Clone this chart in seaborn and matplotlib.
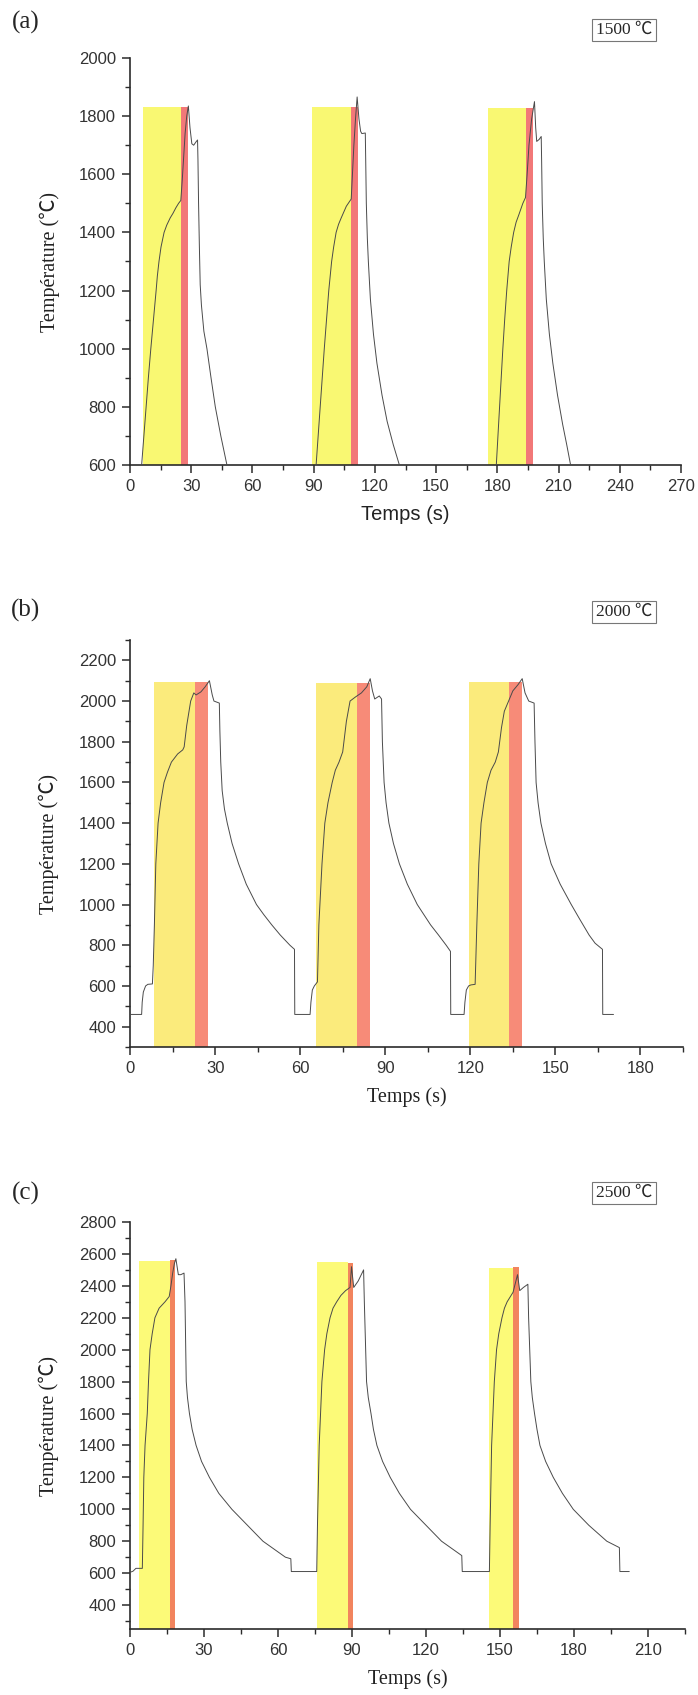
import matplotlib
matplotlib.use("Agg")
import matplotlib.pyplot as plt
import numpy as np
import pandas as pd
import seaborn as sns
from matplotlib.ticker import MultipleLocator

# ---- (a) 1500 C : three cycles, curve leaves the frame below 600 between cycles
a_time = [
    [5.7, 6.8, 7.9, 9.0, 10.2, 11.5, 12.8, 13.4, 14.2, 15.2, 16.7, 18.0, 19.7, 21.0, 22.5,
     23.8, 24.9, 25.6, 26.3, 27.0, 27.8, 28.6, 29.4, 30.3, 31.2, 32.4, 33.1, 33.3, 33.6,
     34.0, 34.4, 35.0, 36.2, 37.7, 39.7, 41.8, 44.5, 47.5],
    [91.2, 92.2, 93.2, 94.2, 95.2, 96.3, 97.4, 98.1, 98.8, 99.8, 101.0, 102.2, 103.5, 106.0,
     108.4, 109.0, 109.7, 110.5, 111.3, 112.2, 113.0, 113.6, 115.3, 115.5, 115.8, 116.3,
     116.8, 117.8, 119.3, 121.0, 123.5, 126.0, 129.0, 132.0],
    [179.5, 180.3, 181.1, 181.9, 182.7, 183.6, 184.6, 185.2, 185.8, 186.8, 188.0, 189.2,
     190.5, 192.5, 193.8, 194.6, 195.5, 196.8, 198.2, 198.8, 199.3, 200.5, 201.5, 201.7,
     202.0, 202.5, 203.0, 204.0, 205.5, 207.2, 209.5, 212.0, 214.0, 215.9],
]
a_temp = [
    [600, 700, 800, 900, 1000, 1100, 1200, 1250, 1300, 1350, 1400, 1425, 1450, 1465, 1485,
     1500, 1510, 1580, 1660, 1740, 1800, 1835, 1760, 1705, 1700, 1712, 1718, 1650, 1500,
     1350, 1220, 1150, 1060, 1000, 900, 800, 700, 600],
    [600, 700, 800, 900, 1000, 1100, 1200, 1250, 1300, 1350, 1400, 1428, 1450, 1490, 1515,
     1600, 1700, 1790, 1866, 1790, 1748, 1740, 1742, 1650, 1500, 1380, 1300, 1170, 1050,
     950, 840, 750, 670, 600],
    [600, 700, 800, 900, 1000, 1100, 1200, 1250, 1300, 1350, 1400, 1435, 1460, 1500, 1520,
     1600, 1700, 1790, 1850, 1760, 1713, 1720, 1730, 1650, 1500, 1380, 1300, 1170, 1050,
     950, 840, 740, 670, 600],
]
a_yellow = [(6.2, 24.9), (89.2, 108.2), (175.5, 194.0)]
a_red = [(24.9, 28.3), (108.2, 111.5), (194.0, 197.6)]
a_yellow_top = [1830, 1830, 1828]
a_red_top = [1830, 1830, 1828]

# ---- (b) 2000 C
b_time = [0, 4.1, 4.3, 4.7, 5.5, 6.3, 7.9, 8.2, 8.6, 9.1, 9.9, 10.8, 12.0, 13.2, 14.6, 16.8,
          18.6, 19.1, 20.0, 21.4, 22.5, 23.3, 25.0, 26.5, 28.0, 29.0, 29.6, 31.5, 31.7, 32.0,
          32.5, 33.3, 34.3, 36.0, 38.3, 41.0, 44.6, 47.2, 50.0, 53.0, 56.4, 58.0, 58.1, 63.5,
          63.8, 64.3, 65.0, 66.1, 66.6, 67.7, 68.7, 69.8, 71.3, 72.4, 73.7, 75.0, 76.3, 77.6,
          79.5, 81.6, 83.5, 84.7, 85.5, 86.3, 87.9, 88.7, 89.0, 89.6, 90.3, 91.3, 92.9, 95.0,
          97.8, 101.3, 106.0, 108.8, 111.5, 113.0, 113.1, 117.8,
          118.1, 118.6, 119.4, 120.2, 121.7, 122.3, 123.0, 123.8, 124.8, 126.0, 127.3, 128.8,
          129.9, 131.0, 132.0, 133.5, 135.0, 136.8, 138.3, 139.3, 140.6, 142.5, 142.8, 143.2,
          143.9, 144.9, 146.5, 148.5, 151.7, 155.6, 158.5, 161.9, 164.0, 166.6, 166.7, 170.5]
b_temp = [460, 460, 520, 570, 600, 608, 610, 700, 900, 1200, 1400, 1500, 1600, 1650, 1700,
          1740, 1760, 1775, 1880, 2000, 2040, 2030, 2045, 2070, 2100, 2030, 2000, 1990, 1850,
          1700, 1560, 1470, 1400, 1300, 1200, 1100, 1000, 950, 900, 850, 800, 780, 460, 460,
          520, 580, 600, 620, 900, 1200, 1400, 1500, 1600, 1660, 1700, 1750, 1900, 2000,
          2020, 2040, 2070, 2110, 2050, 2010, 2025, 2010, 1800, 1600, 1500, 1400, 1300, 1200,
          1100, 1000, 900, 850, 800, 770, 460, 460,
          520, 580, 600, 605, 608, 900, 1200, 1400, 1500, 1600, 1660, 1700, 1750, 1870, 1950,
          2000, 2050, 2080, 2110, 2040, 2000, 1990, 1800, 1600, 1500, 1400, 1300, 1200, 1100,
          1000, 930, 850, 810, 780, 460, 460]
b_yellow = [(8.4, 22.8), (65.5, 80.0), (119.4, 133.5)]
b_red = [(22.8, 27.4), (80.0, 84.7), (133.5, 138.3)]
b_yellow_top = [2095, 2090, 2095]
b_red_top = [2095, 2090, 2095]

# ---- (c) 2500 C
c_time = [0, 1.2, 2.4, 5.0, 5.3, 5.6, 6.1, 7.0, 7.5, 8.1, 9.0, 10.1, 11.8, 14.2, 15.9, 16.6,
          17.3, 18.0, 18.6, 19.6, 20.6, 21.9, 22.3, 22.8, 23.3, 24.1, 25.2, 26.8, 29.0, 32.2,
          36.0, 41.3, 47.6, 53.9, 63.0, 65.2, 65.4, 75.7,
          76.0, 76.7, 77.8, 78.9, 79.8, 81.1, 82.3, 83.8, 85.5, 87.4, 89.2, 89.8, 90.7, 92.5,
          94.7, 95.0, 95.9, 96.6, 97.7, 98.7, 100.1, 102.4, 105.5, 109.2, 113.7, 120.0, 126.3,
          134.5, 134.7, 145.7,
          146.0, 146.6, 147.7, 148.6, 149.5, 150.8, 151.8, 152.9, 155.3, 157.1, 158.0, 159.5,
          161.3, 161.6, 162.5, 163.1, 164.0, 165.0, 166.2, 168.5, 171.6, 175.3, 179.7, 186.0,
          193.3, 198.4, 198.6, 202.4]
c_temp = [605, 612, 630, 630, 900, 1200, 1400, 1600, 1800, 2000, 2100, 2200, 2260, 2300, 2333,
          2400, 2480, 2540, 2570, 2470, 2470, 2480, 2300, 1800, 1700, 1600, 1500, 1400, 1300,
          1200, 1100, 1000, 900, 800, 700, 690, 610, 610,
          900, 1400, 1800, 2000, 2100, 2200, 2260, 2300, 2340, 2370, 2390, 2520, 2390, 2430,
          2500, 2300, 1800, 1700, 1600, 1500, 1400, 1300, 1200, 1100, 1000, 900, 800, 710,
          610, 610,
          900, 1400, 1800, 2000, 2100, 2200, 2260, 2300, 2360, 2470, 2370, 2390, 2410, 2200,
          1800, 1700, 1600, 1500, 1400, 1300, 1200, 1100, 1000, 900, 800, 760, 610, 610]
c_yellow = [(3.6, 16.3), (75.7, 88.3), (145.7, 155.3)]
c_red = [(16.3, 18.2), (88.3, 90.5), (155.3, 157.6)]
c_yellow_top = [2555, 2550, 2510]
c_red_top = [2560, 2540, 2520]

W, H = 698, 1695
sns.set_theme(style="ticks")
plt.rcParams["font.family"] = ["Liberation Sans", "DejaVu Sans"]
SERIF = ["Liberation Serif", "Noto Sans CJK SC", "DejaVu Serif"]

fig = plt.figure(figsize=(W / 100, H / 100), dpi=100)


def box(left, top, right, bottom):
    return [left / W, 1 - bottom / H, (right - left) / W, (bottom - top) / H]


def frame(times, temps):
    rows = []
    for k, (t, v) in enumerate(zip(times, temps)):
        rows.append(pd.DataFrame({"t": t, "T": v, "cycle": k}))
    return pd.concat(rows, ignore_index=True)


def panel(rect, df, yellow, red, ytop, rtop, ycol, rcol, xlim, ylim, xmax_tick,
          ymin_tick, ymax_tick, xlabel_family):
    ax = fig.add_axes(rect)
    for (x0, x1), top in zip(yellow, ytop):
        ax.fill_between([x0, x1], ylim[0], top, color=ycol, lw=0, zorder=1)
    for (x0, x1), top in zip(red, rtop):
        ax.fill_between([x0, x1], ylim[0], top, color=rcol, lw=0, zorder=1)
    sns.lineplot(data=df, x="t", y="T", units="cycle", estimator=None, sort=False,
                 color="#4a4a4a", lw=0.7, ax=ax, zorder=3)
    ax.set_xlim(*xlim)
    ax.set_ylim(*ylim)
    ax.set_xticks(np.arange(0, xmax_tick + 1, 30))
    ax.set_yticks(np.arange(ymin_tick, ymax_tick + 1, 200))
    ax.xaxis.set_minor_locator(MultipleLocator(15))
    ax.yaxis.set_minor_locator(MultipleLocator(100))
    for s in ["top", "right"]:
        ax.spines[s].set_visible(False)
    for s in ["left", "bottom"]:
        ax.spines[s].set_color("#2b2b2b")
        ax.spines[s].set_linewidth(1.2)
    ax.tick_params(which="major", length=6, width=1.1, color="#2b2b2b",
                   labelsize=12, labelcolor="#333333", pad=4)
    ax.tick_params(which="minor", length=3.5, width=1.0, color="#2b2b2b")
    ax.set_ylabel("Température (℃)", family=SERIF, fontsize=14.5, labelpad=14,
                  color="#222222")
    ax.set_xlabel("Temps (s)", family=xlabel_family, fontsize=14.5, labelpad=8,
                  color="#222222")
    ax.grid(False)
    return ax


# (a)
panel(box(130, 58, 681, 465), frame(a_time, a_temp), a_yellow, a_red, a_yellow_top,
      a_red_top, "#F9F872", "#F27878", (0, 270), (600, 2000), 270, 600, 2000,
      ["Liberation Sans", "DejaVu Sans"])
# (b)
panel(box(130, 640, 683, 1047), frame([b_time], [b_temp]), b_yellow, b_red, b_yellow_top,
      b_red_top, "#FBEB7C", "#F78B78", (0, 195), (300, 2300), 180, 400, 2200, SERIF)
# (c)
panel(box(130, 1222, 685, 1629), frame([c_time], [c_temp]), c_yellow, c_red, c_yellow_top,
      c_red_top, "#FCFA78", "#F2845E", (0, 225), (250, 2800), 210, 400, 2800, SERIF)

for tag, y in [("(a)", 22), ("(b)", 610), ("(c)", 1193)]:
    fig.text(26 / W, 1 - y / H, tag, family=SERIF, fontsize=18, ha="center", va="center")

for lab, y in [("1500 ℃", 30), ("2000 ℃", 612), ("2500 ℃", 1193)]:
    fig.text(624 / W, 1 - y / H, lab, family=SERIF, fontsize=12.5, ha="center",
             va="center", bbox=dict(boxstyle="square,pad=0.2", fc="white", ec="#777777",
                                    lw=0.8))

fig.savefig("out.png", dpi=100)
